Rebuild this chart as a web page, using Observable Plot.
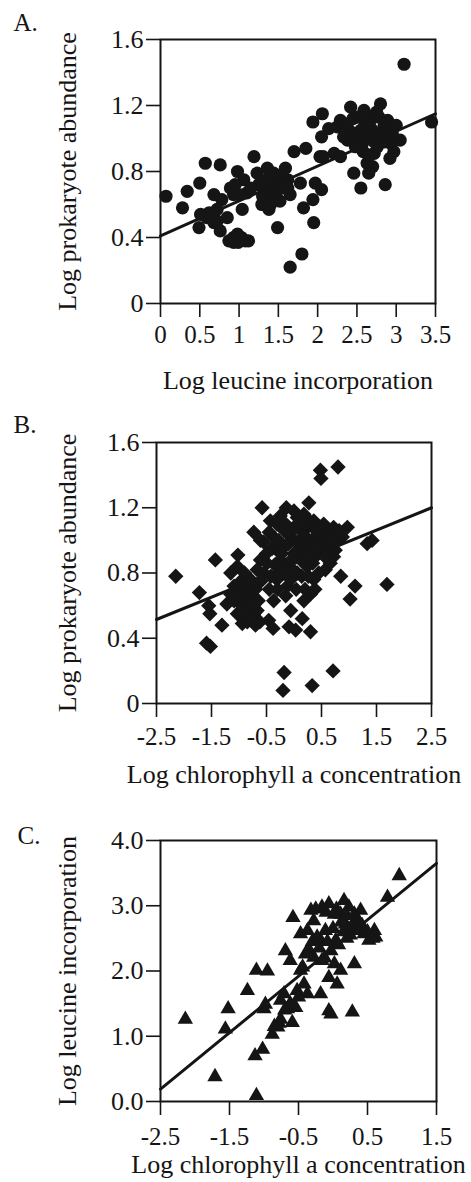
<!DOCTYPE html>
<html>
<head>
<meta charset="utf-8">
<script src="https://cdn.jsdelivr.net/npm/d3@7"></script>
<script src="https://cdn.jsdelivr.net/npm/@observablehq/plot@0.6"></script>
<style>
  body { margin: 0; background: #ffffff; }
  #wrap { position: relative; width: 471px; height: 1182px; overflow: hidden; }
  #wrap svg { position: absolute; left: 0; }
</style>
</head>
<body>
<div id="wrap"></div>
<script>
// ---------- Panel A: Log leucine incorporation vs Log prokaryote abundance ----------
const aLeucine = [0.07,0.28,0.34,0.50,0.57,0.76,0.49,0.51,0.59,0.68,0.76,0.87,0.98,1.08,0.99,0.85,0.68,0.78,0.89,0.98,
  0.93,1.04,1.10,1.19,1.23,1.36,1.32,1.29,1.38,1.40,1.48,1.48,1.55,1.59,1.62,1.65,1.49,1.65,1.80,1.70,
  1.85,1.82,1.95,1.94,1.97,2.05,1.94,2.06,2.05,2.03,2.21,2.29,2.14,2.25,2.38,2.42,2.50,2.59,2.46,2.55,
  2.63,2.72,2.80,2.84,2.86,2.93,3.05,3.10,3.45,2.55,2.63,2.67,2.74,2.76,2.70,2.65,2.57,2.46,2.89,2.95,
  2.97,2.78,2.40,2.33,1.44,1.42,0.72,0.93,1.12,1.06,1.78,2.29,2.07,
  2.35,2.45,2.52,2.60,2.68,2.72,2.80,2.85,2.90,2.58,2.48,2.66,2.75,2.62,3.00,2.92,
  1.35,1.45,1.52,1.58,1.30,1.40,1.55,1.62,1.42,1.25,1.00,1.15,0.95,0.62,0.72,0.93,1.03];
const aProkaryote = [0.65,0.58,0.68,0.73,0.85,0.84,0.46,0.54,0.52,0.49,0.44,0.38,0.42,0.38,0.37,0.52,0.66,0.63,0.70,0.80,
  0.66,0.57,0.67,0.89,0.79,0.82,0.70,0.60,0.57,0.66,0.64,0.75,0.70,0.82,0.75,0.66,0.46,0.22,0.30,0.92,
  0.94,0.58,0.49,0.63,0.73,0.69,1.10,1.15,1.01,0.89,0.91,0.89,1.06,1.07,0.99,1.19,1.13,1.17,0.79,0.70,
  0.85,0.91,1.21,1.07,0.72,0.97,0.99,1.45,1.10,1.05,1.01,1.11,1.03,0.95,0.83,0.79,0.97,1.03,1.11,1.03,
  0.92,1.13,1.05,1.01,0.79,0.62,0.57,0.37,0.38,0.75,0.73,1.11,0.89,
  1.09,1.12,1.00,1.08,1.06,0.98,1.02,0.98,1.06,0.92,0.95,0.90,1.16,1.14,1.08,0.88,
  0.75,0.70,0.62,0.72,0.65,0.60,0.78,0.70,0.68,0.72,0.66,0.70,0.72,0.55,0.50,0.40,0.40];
const aFitX = [0, 3.5];
const aFitY = [0.41, 1.15];
const aXTicks = [0, 0.5, 1, 1.5, 2, 2.5, 3, 3.5];
const aXTickLabels = ["0", "0.5", "1", "1.5", "2", "2.5", "3", "3.5"];
const aYTicks = [0, 0.4, 0.8, 1.2, 1.6];
const aYTickLabels = ["0", "0.4", "0.8", "1.2", "1.6"];

// ---------- Panel B: Log chlorophyll a vs Log prokaryote abundance ----------
const bChlorophyll = [-2.15,-1.72,-1.43,-1.59,-1.52,-1.53,-1.55,-1.31,-1.02,-1.03,-1.09,-1.22,-1.15,-0.97,-0.94,-0.85,-0.73,-0.79,-0.73,-0.58,
  -0.55,-0.43,-0.49,-0.46,-0.38,-0.37,-0.31,-0.18,-0.20,-0.14,-0.06,-0.09,0.03,0.15,0.30,0.33,0.27,0.48,0.49,0.80,
  0.71,0.57,0.85,1.02,1.11,0.97,0.88,1.33,1.42,1.69,0.30,0.18,0.36,0.66,-0.18,-0.06,0.00,0.12,0.24,0.36,
  0.48,0.60,0.72,0.42,0.12,-0.12,-0.25,-0.31,-0.37,0.06,0.18,-0.06,0.06,0.24,-0.12,-0.25,-0.61,-0.67,-0.79,-0.85,
  -0.91,-1.09,-1.03,-0.82,-0.67,0.48,0.39,0.60,0.75,0.72,-0.18,-0.31,0.00,0.12,0.30,0.66,-0.70,-0.62,-0.85,-1.15,-0.61,
  -0.45,-0.40,-0.35,-0.28,-0.22,-0.15,-0.10,-0.05,0.02,0.08,0.10,0.16,0.20,0.22,0.28,0.32,0.34,0.40,0.44,0.50,
  0.54,0.56,0.62,0.68,0.78,0.82,-0.50,-0.55,-0.42,-0.20,-0.02,0.04,0.14,0.26,0.20,-0.15,-0.30,-0.45,-0.60,-0.70,
  -0.90,-1.00,-0.95,-0.80,-0.65,-1.05,0.38,0.45,-0.25,0.00,-0.90,-0.80,-0.75,-0.88,-0.70];
const bProkaryote = [0.78,0.68,0.88,0.37,0.35,0.55,0.60,0.48,0.91,0.84,0.72,0.61,0.67,0.75,0.49,0.57,0.55,0.65,1.05,1.20,
  0.99,1.12,0.86,0.51,0.46,0.63,0.76,0.19,0.08,1.20,0.57,0.47,0.45,0.52,0.44,0.11,1.23,1.43,1.38,1.45,
  0.20,0.82,0.78,0.64,0.72,1.08,1.02,0.98,1.00,0.73,0.67,0.63,0.76,0.92,0.96,1.02,0.92,1.00,1.08,1.12,
  1.08,1.04,1.08,1.00,0.88,0.84,0.88,0.94,1.02,1.14,1.16,0.76,0.80,0.84,0.72,0.80,0.88,0.82,0.76,0.72,
  0.65,0.63,0.55,0.60,0.57,0.94,0.90,0.94,0.94,0.90,1.06,1.10,1.08,1.06,0.94,0.86,0.52,0.50,0.50,0.80,1.00,
  1.05,0.95,0.85,1.00,0.92,1.10,0.98,0.88,1.00,0.94,1.10,0.98,0.90,1.02,1.12,1.00,0.86,1.06,0.96,1.02,
  1.10,0.90,0.98,1.02,1.00,1.06,0.92,0.80,0.78,0.80,0.82,0.70,0.78,0.78,0.70,0.66,0.70,0.70,0.75,0.70,
  0.80,0.70,0.60,0.66,0.63,0.65,0.70,0.80,1.15,1.18,0.55,0.52,0.60,0.68,0.48];
const bFitX = [-2.5, 2.5];
const bFitY = [0.515, 1.20];
const bXTicks = [-2.5, -1.5, -0.5, 0.5, 1.5, 2.5];
const bXTickLabels = ["-2.5", "-1.5", "-0.5", "0.5", "1.5", "2.5"];
const bYTicks = [0, 0.4, 0.8, 1.2, 1.6];
const bYTickLabels = ["0", "0.4", "0.8", "1.2", "1.6"];

// ---------- Panel C: Log chlorophyll a vs Log leucine incorporation ----------
const cChlorophyll = [-2.14,-1.71,-1.56,-1.52,-1.24,-1.11,-0.95,-1.11,-1.13,-1.02,-1.00,-0.98,-0.88,-0.80,-0.76,-0.71,-0.69,-0.66,-0.59,-0.58,
  -0.54,-0.52,-0.47,-0.44,-0.40,-0.37,-0.35,-0.32,-0.28,-0.18,-0.18,-0.16,-0.16,-0.06,-0.03,-0.11,-0.06,-0.03,0.02,-0.06,
  0.06,0.11,0.16,0.18,0.11,0.23,0.31,0.26,0.33,0.31,0.28,0.40,0.38,0.45,0.52,0.60,0.62,0.79,0.96,0.02,
  0.04,-0.28,-0.23,-0.37,-0.62,-0.76,-0.47,
  -0.25,-0.10,0.05,0.12,0.20,0.25,0.35,0.42,0.15,0.00,-0.08,-0.20,-0.30,-0.12,0.08,0.20,0.50,0.58,-0.42,-0.50,
  -0.62,-0.70,-0.78,-0.85];
const cLeucine = [1.26,0.38,1.11,1.42,1.70,2.01,2.00,0.09,0.70,0.80,1.42,1.49,1.03,1.14,1.26,1.65,2.31,1.42,1.21,2.82,
  1.44,1.70,2.57,2.06,2.26,1.65,2.33,2.93,2.77,1.65,2.47,2.16,2.98,1.39,1.34,2.62,3.03,2.31,2.11,1.90,
  1.80,2.01,3.08,2.72,2.87,2.98,2.87,2.67,2.67,2.11,1.37,2.93,2.62,2.57,2.47,2.62,2.52,3.13,3.46,2.87,
  2.47,2.21,2.52,2.62,2.16,1.55,2.01,
  2.95,2.90,2.95,2.75,2.85,2.55,2.80,2.70,2.60,2.65,2.45,2.35,2.45,2.20,2.40,2.50,2.60,2.50,1.80,1.60,
  1.50,1.40,1.20,1.15];
const cFitX = [-2.5, 1.5];
const cFitY = [0.19, 3.65];
const cXTicks = [-2.5, -1.5, -0.5, 0.5, 1.5];
const cXTickLabels = ["-2.5", "-1.5", "-0.5", "0.5", "1.5"];
const cYTicks = [0, 1, 2, 3, 4];
const cYTickLabels = ["0.0", "1.0", "2.0", "3.0", "4.0"];

const INK = "#151515";
const FONT = "Liberation Serif, Times New Roman, serif";

function zip(xs, ys) { return xs.map((x, i) => ({x, y: ys[i]})); }
function fmt(ticks, labels) { const m = new Map(ticks.map((t, i) => [t, labels[i]])); return d => m.get(d) ?? String(d); }

function panel(o) {
  const svg = Plot.plot({
    width: 471,
    height: o.height,
    marginTop: o.mt, marginBottom: o.mb, marginLeft: o.ml, marginRight: o.mr,
    style: {fontFamily: FONT, fontSize: "25px", color: INK, background: "transparent", overflow: "visible"},
    x: {domain: o.xDomain, label: null},
    y: {domain: o.yDomain, label: null},
    marks: [
      Plot.line(zip(o.fitX, o.fitY), {x: "x", y: "y", stroke: INK, strokeWidth: 3}),
      Plot.dot(zip(o.xs, o.ys), {x: "x", y: "y", symbol: o.symbol, r: o.r, fill: INK, stroke: "none"}),
      Plot.frame({stroke: INK, strokeWidth: 2}),
      Plot.axisX({ticks: o.xTicks, tickFormat: fmt(o.xTicks, o.xLabels), tickSize: 14, tickPadding: o.xPad, strokeWidth: 1.6, label: null}),
      Plot.axisY({ticks: o.yTicks, tickFormat: fmt(o.yTicks, o.yLabels), tickSize: 14, tickPadding: 3, strokeWidth: 1.6, label: null, fontSize: 26}),
      Plot.text([o.letter], {frameAnchor: "top-left", dx: o.letterDx, dy: o.letterDy, textAnchor: "start", lineAnchor: "bottom", fill: INK}),
      Plot.text([o.xTitle], {frameAnchor: "bottom", dy: o.xTitleDy, textAnchor: "middle", lineAnchor: "bottom", fill: INK, fontSize: 26}),
      Plot.text([o.yTitle], {frameAnchor: "left", dx: o.yTitleDx, rotate: -90, textAnchor: "middle", lineAnchor: "bottom", fill: INK, fontSize: 26})
    ]
  });
  svg.style.top = o.top + "px";
  document.getElementById("wrap").appendChild(svg);
}

panel({
  top: 0, height: 400, mt: 39, mb: 97, ml: 160, mr: 36,
  xDomain: [0, 3.5], yDomain: [0, 1.6],
  xs: aLeucine, ys: aProkaryote, symbol: "circle", r: 6.6,
  fitX: aFitX, fitY: aFitY,
  xTicks: aXTicks, xLabels: aXTickLabels, yTicks: aYTicks, yLabels: aYTickLabels, xPad: 8,
  letter: "A.", letterDx: -147, letterDy: -9,
  xTitle: "Log leucine incorporation", xTitleDy: 85,
  yTitle: "Log prokaryote abundance", yTitleDx: -85
});

panel({
  top: 400, height: 390, mt: 42, mb: 87, ml: 156, mr: 40,
  xDomain: [-2.5, 2.5], yDomain: [0, 1.6],
  xs: bChlorophyll, ys: bProkaryote, symbol: "diamond2", r: 6.9,
  fitX: bFitX, fitY: bFitY,
  xTicks: bXTicks, xLabels: bXTickLabels, yTicks: bYTicks, yLabels: bYTickLabels, xPad: 10,
  letter: "B.", letterDx: -143, letterDy: -10,
  xTitle: "Log chlorophyll a concentration", xTitleDy: 79,
  yTitle: "Log prokaryote abundance", yTitleDx: -81
});

panel({
  top: 790, height: 392, mt: 50, mb: 81, ml: 160, mr: 35,
  xDomain: [-2.5, 1.5], yDomain: [0, 4],
  xs: cChlorophyll, ys: cLeucine, symbol: "triangle", r: 5.7,
  fitX: cFitX, fitY: cFitY,
  xTicks: cXTicks, xLabels: cXTickLabels, yTicks: cYTicks, yLabels: cYTickLabels, xPad: 12,
  letter: "C.", letterDx: -143, letterDy: 3,
  xTitle: "Log chlorophyll a concentration", xTitleDy: 71,
  yTitle: "Log leucine incorporation", yTitleDx: -85
});
</script>
</body>
</html>
